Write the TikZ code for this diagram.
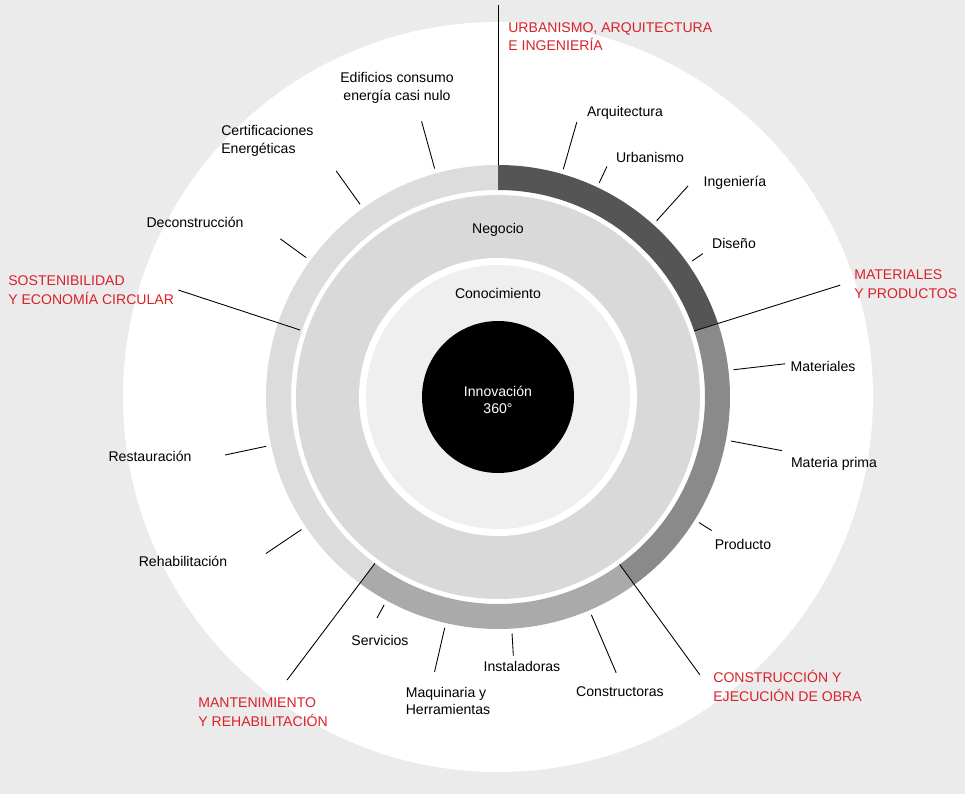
\documentclass[tikz,border=0pt]{standalone}
\usepackage{fontspec}
\setmainfont{Liberation Sans}
\usepackage{tikz}
\usetikzlibrary{positioning}
\definecolor{bggray}{HTML}{EBEBEB}
\definecolor{segdark}{HTML}{555555}
\definecolor{segmid}{HTML}{8A8A8A}
\definecolor{seglight}{HTML}{AAAAAA}
\definecolor{segpale}{HTML}{DCDCDC}
\definecolor{negocio}{HTML}{D9D9D9}
\definecolor{conoc}{HTML}{EFEFEF}
\definecolor{secred}{HTML}{D9222A}
\tikzset{
  item/.style={font=\fontsize{8}{10}\selectfont, align=center, inner sep=0pt},
  section/.style={font=\fontsize{8}{10.5}\selectfont, text=secred, align=left, inner sep=0pt},
  tick/.style={line width=0.5pt, black}
}
\newcommand{\ringseg}[3]{%
  \fill[#3] (#1:4.64) arc[start angle=#1, end angle=#2, radius=4.64]
    -- (#2:4.14) arc[start angle=#2, end angle=#1, radius=4.14] -- cycle;}

\begin{document}
\begin{tikzpicture}
    \fill[bggray] (-9.96,-7.94) rectangle (9.34,7.94);
    \useasboundingbox (-9.96,-7.94) rectangle (9.34,7.94);
    \fill[white] (0,0) circle (7.5);
    % ring of sections
    \ringseg{18.6}{90}{segdark}
    \ringseg{-54}{18.6}{segmid}
    \ringseg{-126.5}{-54}{seglight}
    \ringseg{90}{233.5}{segpale}
    % inner discs
    \fill[negocio] (0,0) circle (4.04);
    \fill[white] (0,0) circle (2.78);
    \fill[conoc] (0,0) circle (2.64);
    \fill[black] (0,0) circle (1.52);
    \node[item] (neg) at (0,3.34) {Negocio};
    \node[item] (con) at (0,2.08) {Conocimiento};
    \node[item, text=white] (inn) at (0,-0.06) {Innovación\\360°};
    % section boundaries
    \coordinate (s1a) at (90:4.64);   \coordinate (s1b) at (90:7.84);
    \coordinate (s2a) at (18.6:4.14); \coordinate (s2b) at (18.1:7.2);
    \coordinate (s3a) at (-54:4.14);  \coordinate (s3b) at (-54:6.87);
    \coordinate (s4a) at (-126.5:4.14); \coordinate (s4b) at (-126.7:7.06);
    \coordinate (s5a) at (161.3:4.18); \coordinate (s5b) at (161.5:6.74);
    \foreach \i in {1,...,5} \draw[tick] (s\i a) -- (s\i b);
    % item ticks
    \foreach \ang/\len [count=\k] in {74/5.72, 64.7/5.1, 48/5.68, 35/5.0,
        6.6/5.78, -10.7/5.78, -32/5.04, -66.8/6.0, -86.6/5.18, -103/5.64,
        -118.7/5.04, -146/5.6, -168/5.58, 144/5.38, 125.6/5.56, 105.5/5.72}
      \draw[tick] (\ang:4.74) coordinate (t\k) -- (\ang:\len) coordinate (u\k);
    % section labels
    \node[section, anchor=north west] (urb) at (0.2,7.5) {URBANISMO, ARQUITECTURA\\E INGENIERÍA};
    \node[section, anchor=west] (mat) at (7.12,2.26) {MATERIALES\\Y PRODUCTOS};
    \node[section, anchor=west] (cons) at (4.3,-5.78) {CONSTRUCCIÓN Y\\EJECUCIÓN DE OBRA};
    \node[section, anchor=west] (mant) at (-6.0,-6.3) {MANTENIMIENTO\\Y REHABILITACIÓN};
    \node[section, anchor=west] (sost) at (-9.8,2.14) {SOSTENIBILIDAD\\Y ECONOMÍA CIRCULAR};
    % item labels
    \node[item] (arq) at (2.54,5.68) {Arquitectura};
    \node[item] (urbi) at (3.04,4.8) {Urbanismo};
    \node[item] (ing) at (4.74,4.28) {Ingeniería};
    \node[item] (dis) at (4.72,3.08) {Diseño};
    \node[item] (mats) at (6.5,0.62) {Materiales};
    \node[item] (mprima) at (6.72,-1.34) {Materia prima};
    \node[item] (prod) at (4.9,-2.94) {Producto};
    \node[item] (constr) at (2.44,-5.9) {Constructoras};
    \node[item] (inst) at (0.48,-5.38) {Instaladoras};
    \node[item, align=left] (maq) at (-1.0,-6.08) {Maquinaria y\\Herramientas};
    \node[item] (serv) at (-2.36,-4.86) {Servicios};
    \node[item] (rehab) at (-6.3,-3.28) {Rehabilitación};
    \node[item] (rest) at (-6.96,-1.18) {Restauración};
    \node[item] (decon) at (-6.06,3.5) {Deconstrucción};
    \node[item, align=left, anchor=west] (cert) at (-5.54,5.12) {Certificaciones\\Energéticas};
    \node[item] (edif) at (-2.02,6.18) {Edificios consumo\\energía casi nulo};
\end{tikzpicture}
\end{document}
